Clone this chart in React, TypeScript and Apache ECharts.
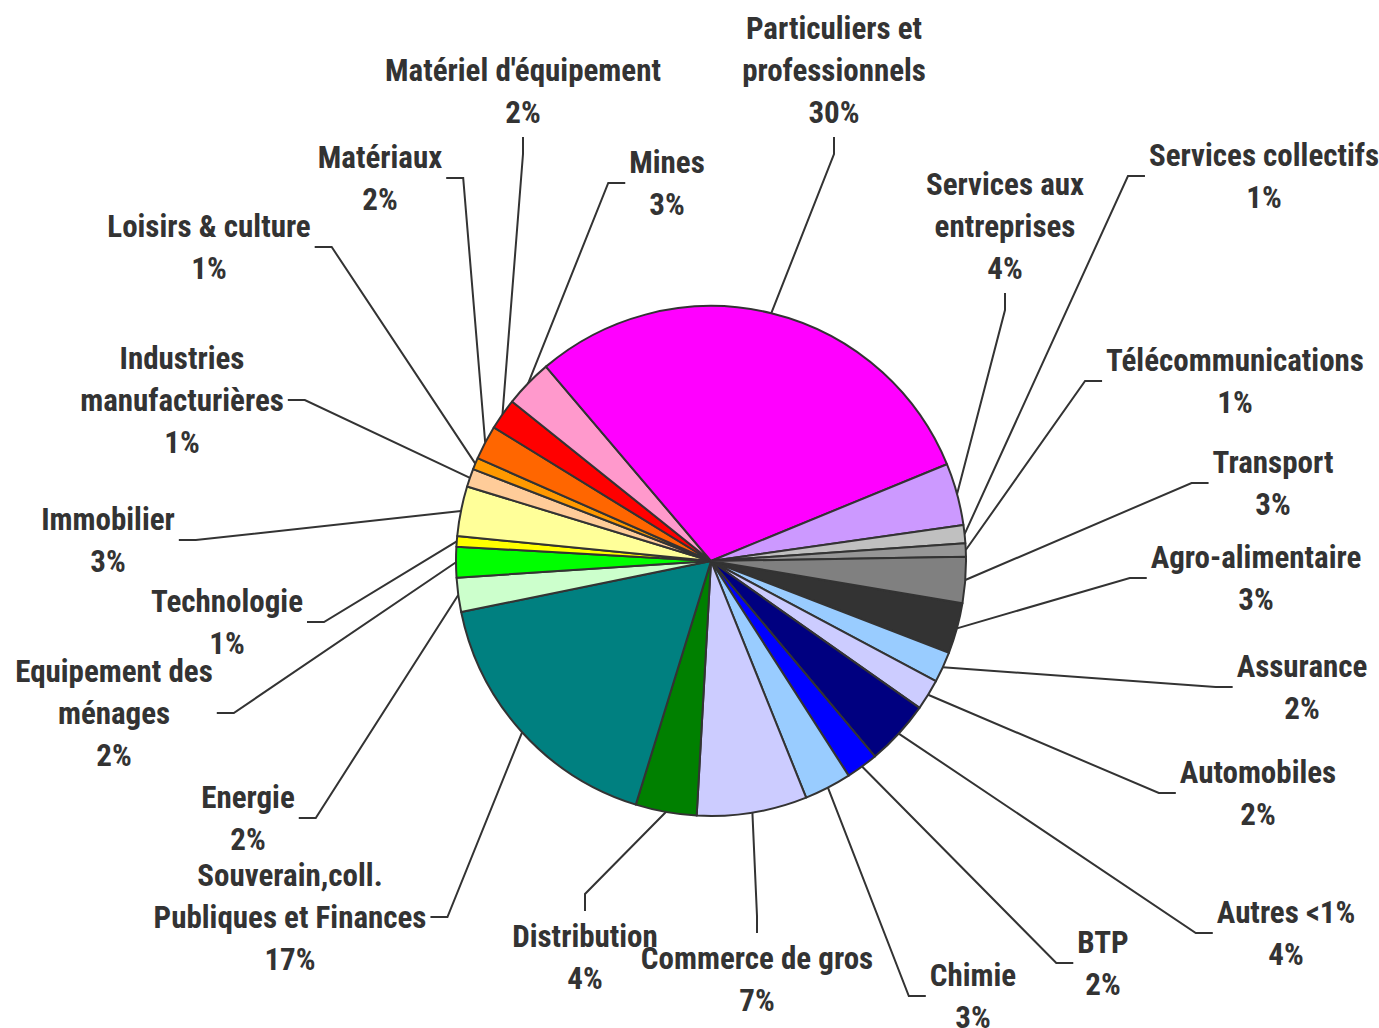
import React, { useEffect, useRef } from 'react';
import * as echarts from 'echarts';

// Sector names (in the chart's clockwise order, starting with Agro-alimentaire)
const categories: string[] = [
  'Agro-alimentaire',
  'Assurance',
  'Automobiles',
  'Autres <1%',
  'BTP',
  'Chimie',
  'Commerce de gros',
  'Distribution',
  'Souverain,coll.\nPubliques et Finances',
  'Energie',
  'Equipement des\nménages',
  'Technologie',
  'Immobilier',
  'Industries\nmanufacturières',
  'Loisirs & culture',
  'Matériaux',
  "Matériel d'équipement",
  'Mines',
  'Particuliers et\nprofessionnels',
  'Services aux\nentreprises',
  'Services collectifs',
  'Télécommunications',
  'Transport',
];

// Shares (%)
const values: number[] = [
  3.22, 1.95, 1.95, 4.13, 2.03, 2.99, 6.98, 3.87, 17.03, 2.16, 1.94, 0.67,
  3.15, 1.15, 0.74, 2.17, 1.98, 3.04, 30.01, 3.94, 1.15, 0.84, 2.91,
];

const colors: string[] = [
  '#333333', '#99CCFF', '#CCCCFF', '#000080', '#0000FF', '#99CCFF', '#CCCCFF',
  '#008000', '#008080', '#CCFFCC', '#00FF00', '#FFFF00', '#FFFF99', '#FFCC99',
  '#FF9900', '#FF6600', '#FF0000', '#FF99CC', '#FF00FF', '#CC99FF', '#C0C0C0',
  '#969696', '#808080',
];

// Label block centres (layout only)
const labelX: number[] = [
  1256, 1302, 1258, 1286, 1103, 973, 757, 585, 290, 248, 114, 227, 108, 182,
  209, 380, 523, 667, 834, 1005, 1264, 1235, 1273,
];
const labelY: number[] = [
  578, 687, 793, 933, 963, 996, 979, 957, 917, 818, 713, 622, 540, 400, 247,
  178, 91, 183, 70, 226, 176, 381, 483,
];

const CX = 711;
const CY = 561;
const R = 255;
const START_ANGLE = -9.52;

export default function App() {
  const ref = useRef<HTMLDivElement>(null);

  useEffect(() => {
    if (!ref.current) return;
    const chart = echarts.init(ref.current, null, { renderer: 'svg' });

    const total = values.reduce((a, b) => a + b, 0);
    const midAngles: number[] = [];
    let cum = 0;
    values.forEach((v) => {
      midAngles.push(START_ANGLE - (360 * (cum + v / 2)) / total);
      cum += v;
    });

    const data = categories.map((name, i) => ({
      name,
      value: values[i],
      itemStyle: { color: colors[i] },
    }));

    const option: any = {
      animation: false,
      backgroundColor: '#ffffff',
      series: [
        {
          type: 'pie',
          center: [CX, CY],
          radius: R,
          startAngle: START_ANGLE,
          clockwise: true,
          avoidLabelOverlap: false,
          data,
          itemStyle: { borderColor: '#333333', borderWidth: 2 },
          label: {
            show: true,
            position: 'outside',
            formatter: (p: any) => `${p.name}\n${Math.round(p.percent)}%`,
            color: '#333333',
            fontSize: 31,
            lineHeight: 42,
            fontWeight: 'bold',
            fontFamily: "'Liberation Sans Narrow', 'Arial Narrow', 'Roboto Condensed', sans-serif",
            align: 'center',
            bleedMargin: 0,
          },
          labelLine: {
            show: true,
            length: 10,
            length2: 10,
            lineStyle: { color: '#333333', width: 2 },
          },
          emphasis: { disabled: true },
          labelLayout: (params: any) => {
            const i = params.dataIndex;
            const w = params.labelRect.width;
            const h = params.labelRect.height;
            const X = labelX[i];
            const Y = labelY[i];
            const rx = X - w / 2;
            const ry = Y - h / 2;
            const a = (midAngles[i] * Math.PI) / 180;
            const ex = CX + R * Math.cos(a);
            const ey = CY - R * Math.sin(a);
            const margin = 20;
            const gap = 4;
            const len = 17;
            let anchor: number[];
            let elbow: number[];
            if (ex >= rx - margin && ex <= rx + w + margin) {
              if (ey > Y) {
                anchor = [X, ry + h + gap];
                elbow = [X, ry + h + gap + len];
              } else {
                anchor = [X, ry - gap];
                elbow = [X, ry - gap - len];
              }
            } else if (ex < rx) {
              anchor = [rx - gap, Y];
              elbow = [rx - gap - len, Y];
            } else {
              anchor = [rx + w + gap, Y];
              elbow = [rx + w + gap + len, Y];
            }
            return {
              x: X,
              y: Y,
              align: 'center',
              verticalAlign: 'middle',
              labelLinePoints: [[ex, ey], elbow, anchor],
            };
          },
        },
      ],
    };

    chart.setOption(option);
    return () => chart.dispose();
  }, []);

  return (
    <div
      ref={ref}
      style={{ position: 'fixed', left: 0, top: 0, width: 1379, height: 1028, background: '#ffffff' }}
    />
  );
}
